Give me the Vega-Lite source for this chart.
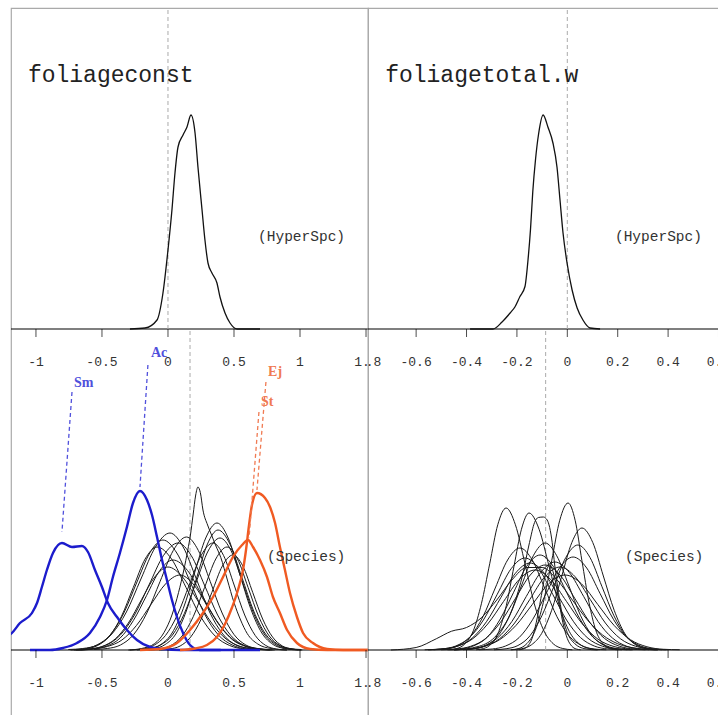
{
"$schema": "https://vega.github.io/schema/vega-lite/v6.json",
"padding": {"left": 9, "top": 6, "right": 0, "bottom": 0},
"spacing": 0,
"bounds": "flush",
"config": {"view": {"stroke": "#aaaaaa", "strokeWidth": 1.2}, "concat": {"spacing": 0}},
"datasets": {
"tl": [{"x":-0.288,"y":0},{"x":-0.174,"y":0.02},{"x":-0.083,"y":0.18},{"x":-0.038,"y":0.72},{"x":0.0,"y":1.58},{"x":0.030,"y":2.38},{"x":0.053,"y":3.12},{"x":0.076,"y":3.64},{"x":0.114,"y":3.88},{"x":0.144,"y":4.04},{"x":0.174,"y":4.28},{"x":0.205,"y":3.92},{"x":0.227,"y":3.24},{"x":0.258,"y":2.38},{"x":0.280,"y":1.78},{"x":0.303,"y":1.32},{"x":0.333,"y":1.12},{"x":0.371,"y":0.92},{"x":0.394,"y":0.64},{"x":0.432,"y":0.32},{"x":0.470,"y":0.12},{"x":0.523,"y":0.0},{"x":0.697,"y":0}],
"tr": [{"x":-0.386,"y":0},{"x":-0.295,"y":0},{"x":-0.259,"y":0.28},{"x":-0.227,"y":0.64},{"x":-0.208,"y":0.88},{"x":-0.188,"y":1.3},{"x":-0.168,"y":1.7},{"x":-0.156,"y":2.76},{"x":-0.146,"y":4.0},{"x":-0.137,"y":5.5},{"x":-0.126,"y":6.8},{"x":-0.114,"y":7.8},{"x":-0.096,"y":8.56},{"x":-0.077,"y":8.08},{"x":-0.057,"y":7.44},{"x":-0.041,"y":6.48},{"x":-0.029,"y":5.16},{"x":-0.017,"y":3.84},{"x":-0.001,"y":2.64},{"x":0.019,"y":1.56},{"x":0.039,"y":0.84},{"x":0.062,"y":0.36},{"x":0.090,"y":0.04},{"x":0.130,"y":0}],
"bl": [
{"c":"k1","x":-0.3,"y":0},{"c":"k1","x":-0.2,"y":0.03},{"c":"k1","x":-0.1,"y":0.13},{"c":"k1","x":-0.03,"y":0.35},{"c":"k1","x":0.03,"y":0.7},{"c":"k1","x":0.08,"y":1.15},{"c":"k1","x":0.12,"y":1.6},{"c":"k1","x":0.15,"y":2.0},{"c":"k1","x":0.17,"y":2.3},{"c":"k1","x":0.19,"y":2.7},{"c":"k1","x":0.21,"y":3.1},{"c":"k1","x":0.227,"y":3.26},{"c":"k1","x":0.245,"y":3.15},{"c":"k1","x":0.265,"y":2.8},{"c":"k1","x":0.30,"y":2.5},{"c":"k1","x":0.33,"y":2.3},{"c":"k1","x":0.36,"y":2.1},{"c":"k1","x":0.40,"y":1.85},{"c":"k1","x":0.45,"y":1.4},{"c":"k1","x":0.5,"y":0.95},{"c":"k1","x":0.55,"y":0.6},{"c":"k1","x":0.6,"y":0.33},{"c":"k1","x":0.68,"y":0.12},{"c":"k1","x":0.78,"y":0.03},{"c":"k1","x":0.9,"y":0},
{"c":"k2","x":-0.755,"y":0.01},{"c":"k2","x":-0.645,"y":0.03},{"c":"k2","x":-0.535,"y":0.10},{"c":"k2","x":-0.425,"y":0.32},{"c":"k2","x":-0.315,"y":0.76},{"c":"k2","x":-0.205,"y":1.42},{"c":"k2","x":-0.095,"y":2.06},{"c":"k2","x":0.015,"y":2.34},{"c":"k2","x":0.115,"y":2.06},{"c":"k2","x":0.215,"y":1.42},{"c":"k2","x":0.315,"y":0.76},{"c":"k2","x":0.415,"y":0.32},{"c":"k2","x":0.515,"y":0.10},{"c":"k2","x":0.615,"y":0.03},{"c":"k2","x":0.715,"y":0.01},
{"c":"k3","x":-0.738,"y":0},{"c":"k3","x":-0.638,"y":0.02},{"c":"k3","x":-0.538,"y":0.10},{"c":"k3","x":-0.438,"y":0.30},{"c":"k3","x":-0.338,"y":0.72},{"c":"k3","x":-0.238,"y":1.34},{"c":"k3","x":-0.138,"y":1.94},{"c":"k3","x":-0.038,"y":2.2},{"c":"k3","x":0.067,"y":1.94},{"c":"k3","x":0.172,"y":1.34},{"c":"k3","x":0.277,"y":0.72},{"c":"k3","x":0.382,"y":0.30},{"c":"k3","x":0.487,"y":0.10},{"c":"k3","x":0.592,"y":0.02},{"c":"k3","x":0.697,"y":0},
{"c":"k4","x":-0.694,"y":0},{"c":"k4","x":-0.584,"y":0.02},{"c":"k4","x":-0.474,"y":0.09},{"c":"k4","x":-0.364,"y":0.29},{"c":"k4","x":-0.254,"y":0.70},{"c":"k4","x":-0.144,"y":1.30},{"c":"k4","x":-0.034,"y":1.89},{"c":"k4","x":0.076,"y":2.14},{"c":"k4","x":0.176,"y":1.89},{"c":"k4","x":0.276,"y":1.30},{"c":"k4","x":0.376,"y":0.70},{"c":"k4","x":0.476,"y":0.29},{"c":"k4","x":0.576,"y":0.09},{"c":"k4","x":0.676,"y":0.02},{"c":"k4","x":0.776,"y":0},
{"c":"k5","x":-0.713,"y":0},{"c":"k5","x":-0.623,"y":0.02},{"c":"k5","x":-0.533,"y":0.09},{"c":"k5","x":-0.443,"y":0.28},{"c":"k5","x":-0.353,"y":0.67},{"c":"k5","x":-0.263,"y":1.25},{"c":"k5","x":-0.173,"y":1.82},{"c":"k5","x":-0.083,"y":2.06},{"c":"k5","x":0.027,"y":1.82},{"c":"k5","x":0.137,"y":1.25},{"c":"k5","x":0.247,"y":0.67},{"c":"k5","x":0.357,"y":0.28},{"c":"k5","x":0.467,"y":0.09},{"c":"k5","x":0.577,"y":0.02},{"c":"k5","x":0.687,"y":0},
{"c":"k6","x":-0.662,"y":0},{"c":"k6","x":-0.562,"y":0.02},{"c":"k6","x":-0.462,"y":0.08},{"c":"k6","x":-0.362,"y":0.24},{"c":"k6","x":-0.262,"y":0.59},{"c":"k6","x":-0.162,"y":1.09},{"c":"k6","x":-0.062,"y":1.59},{"c":"k6","x":0.038,"y":1.8},{"c":"k6","x":0.148,"y":1.59},{"c":"k6","x":0.258,"y":1.09},{"c":"k6","x":0.368,"y":0.59},{"c":"k6","x":0.478,"y":0.24},{"c":"k6","x":0.588,"y":0.08},{"c":"k6","x":0.698,"y":0.02},{"c":"k6","x":0.808,"y":0},
{"c":"k7","x":-0.7,"y":0},{"c":"k7","x":-0.6,"y":0.02},{"c":"k7","x":-0.5,"y":0.07},{"c":"k7","x":-0.4,"y":0.22},{"c":"k7","x":-0.3,"y":0.54},{"c":"k7","x":-0.2,"y":1.01},{"c":"k7","x":-0.1,"y":1.46},{"c":"k7","x":0,"y":1.66},{"c":"k7","x":0.11,"y":1.46},{"c":"k7","x":0.22,"y":1.01},{"c":"k7","x":0.33,"y":0.54},{"c":"k7","x":0.44,"y":0.22},{"c":"k7","x":0.55,"y":0.07},{"c":"k7","x":0.66,"y":0.02},{"c":"k7","x":0.77,"y":0},
{"c":"k8","x":-0.679,"y":0},{"c":"k8","x":-0.569,"y":0.02},{"c":"k8","x":-0.459,"y":0.07},{"c":"k8","x":-0.349,"y":0.20},{"c":"k8","x":-0.239,"y":0.49},{"c":"k8","x":-0.129,"y":0.91},{"c":"k8","x":-0.019,"y":1.32},{"c":"k8","x":0.091,"y":1.5},{"c":"k8","x":0.191,"y":1.32},{"c":"k8","x":0.291,"y":0.91},{"c":"k8","x":0.391,"y":0.49},{"c":"k8","x":0.491,"y":0.20},{"c":"k8","x":0.591,"y":0.07},{"c":"k8","x":0.691,"y":0.02},{"c":"k8","x":0.791,"y":0},
{"c":"k9","x":-0.56,"y":0.01},{"c":"k9","x":-0.46,"y":0.03},{"c":"k9","x":-0.36,"y":0.10},{"c":"k9","x":-0.26,"y":0.31},{"c":"k9","x":-0.16,"y":0.74},{"c":"k9","x":-0.06,"y":1.37},{"c":"k9","x":0.04,"y":1.99},{"c":"k9","x":0.14,"y":2.26},{"c":"k9","x":0.23,"y":1.99},{"c":"k9","x":0.32,"y":1.37},{"c":"k9","x":0.41,"y":0.74},{"c":"k9","x":0.50,"y":0.31},{"c":"k9","x":0.59,"y":0.10},{"c":"k9","x":0.68,"y":0.03},{"c":"k9","x":0.77,"y":0.01},
{"c":"k10","x":-0.224,"y":0.01},{"c":"k10","x":-0.139,"y":0.03},{"c":"k10","x":-0.054,"y":0.11},{"c":"k10","x":0.031,"y":0.34},{"c":"k10","x":0.116,"y":0.83},{"c":"k10","x":0.201,"y":1.54},{"c":"k10","x":0.286,"y":2.24},{"c":"k10","x":0.371,"y":2.54},{"c":"k10","x":0.456,"y":2.24},{"c":"k10","x":0.541,"y":1.54},{"c":"k10","x":0.626,"y":0.83},{"c":"k10","x":0.711,"y":0.34},{"c":"k10","x":0.796,"y":0.11},{"c":"k10","x":0.881,"y":0.03},{"c":"k10","x":0.966,"y":0.01},
{"c":"k11","x":-0.181,"y":0.01},{"c":"k11","x":-0.101,"y":0.03},{"c":"k11","x":-0.021,"y":0.11},{"c":"k11","x":0.059,"y":0.32},{"c":"k11","x":0.139,"y":0.78},{"c":"k11","x":0.219,"y":1.46},{"c":"k11","x":0.299,"y":2.12},{"c":"k11","x":0.379,"y":2.4},{"c":"k11","x":0.469,"y":2.12},{"c":"k11","x":0.559,"y":1.46},{"c":"k11","x":0.649,"y":0.78},{"c":"k11","x":0.739,"y":0.32},{"c":"k11","x":0.829,"y":0.11},{"c":"k11","x":0.919,"y":0.03},{"c":"k11","x":1.009,"y":0.01},
{"c":"k12","x":-0.236,"y":0},{"c":"k12","x":-0.146,"y":0.02},{"c":"k12","x":-0.056,"y":0.10},{"c":"k12","x":0.034,"y":0.30},{"c":"k12","x":0.124,"y":0.73},{"c":"k12","x":0.214,"y":1.36},{"c":"k12","x":0.304,"y":1.98},{"c":"k12","x":0.394,"y":2.24},{"c":"k12","x":0.479,"y":1.98},{"c":"k12","x":0.564,"y":1.36},{"c":"k12","x":0.649,"y":0.73},{"c":"k12","x":0.734,"y":0.30},{"c":"k12","x":0.819,"y":0.10},{"c":"k12","x":0.904,"y":0.02},{"c":"k12","x":0.989,"y":0},
{"c":"k13","x":-0.289,"y":0},{"c":"k13","x":-0.199,"y":0.02},{"c":"k13","x":-0.109,"y":0.09},{"c":"k13","x":-0.019,"y":0.29},{"c":"k13","x":0.071,"y":0.70},{"c":"k13","x":0.161,"y":1.30},{"c":"k13","x":0.251,"y":1.89},{"c":"k13","x":0.341,"y":2.14},{"c":"k13","x":0.421,"y":1.89},{"c":"k13","x":0.501,"y":1.30},{"c":"k13","x":0.581,"y":0.70},{"c":"k13","x":0.661,"y":0.29},{"c":"k13","x":0.741,"y":0.09},{"c":"k13","x":0.821,"y":0.02},{"c":"k13","x":0.901,"y":0},
{"c":"k14","x":-0.148,"y":0},{"c":"k14","x":-0.063,"y":0.02},{"c":"k14","x":0.022,"y":0.09},{"c":"k14","x":0.107,"y":0.28},{"c":"k14","x":0.192,"y":0.67},{"c":"k14","x":0.277,"y":1.25},{"c":"k14","x":0.362,"y":1.82},{"c":"k14","x":0.447,"y":2.06},{"c":"k14","x":0.527,"y":1.82},{"c":"k14","x":0.607,"y":1.25},{"c":"k14","x":0.687,"y":0.67},{"c":"k14","x":0.767,"y":0.28},{"c":"k14","x":0.847,"y":0.09},{"c":"k14","x":0.927,"y":0.02},{"c":"k14","x":1.007,"y":0},
{"c":"k15","x":-0.068,"y":0},{"c":"k15","x":0.012,"y":0.02},{"c":"k15","x":0.092,"y":0.08},{"c":"k15","x":0.172,"y":0.26},{"c":"k15","x":0.252,"y":0.62},{"c":"k15","x":0.332,"y":1.15},{"c":"k15","x":0.412,"y":1.68},{"c":"k15","x":0.492,"y":1.9},{"c":"k15","x":0.567,"y":1.68},{"c":"k15","x":0.642,"y":1.15},{"c":"k15","x":0.717,"y":0.62},{"c":"k15","x":0.792,"y":0.26},{"c":"k15","x":0.867,"y":0.08},{"c":"k15","x":0.942,"y":0.02},{"c":"k15","x":1.017,"y":0}
],
"blc": [
{"c":"Sm","g":"b","x":-1.26,"y":0.22},{"c":"Sm","g":"b","x":-1.182,"y":0.34},{"c":"Sm","g":"b","x":-1.121,"y":0.54},{"c":"Sm","g":"b","x":-1.03,"y":0.74},{"c":"Sm","g":"b","x":-0.992,"y":0.94},{"c":"Sm","g":"b","x":-0.955,"y":1.26},{"c":"Sm","g":"b","x":-0.917,"y":1.6},{"c":"Sm","g":"b","x":-0.871,"y":1.94},{"c":"Sm","g":"b","x":-0.803,"y":2.14},{"c":"Sm","g":"b","x":-0.727,"y":2.06},{"c":"Sm","g":"b","x":-0.652,"y":2.08},{"c":"Sm","g":"b","x":-0.606,"y":1.96},{"c":"Sm","g":"b","x":-0.553,"y":1.6},{"c":"Sm","g":"b","x":-0.5,"y":1.26},{"c":"Sm","g":"b","x":-0.455,"y":0.94},{"c":"Sm","g":"b","x":-0.386,"y":0.66},{"c":"Sm","g":"b","x":-0.311,"y":0.4},{"c":"Sm","g":"b","x":-0.235,"y":0.2},{"c":"Sm","g":"b","x":-0.136,"y":0.06},{"c":"Sm","g":"b","x":-0.038,"y":0.02},{"c":"Sm","g":"b","x":0.091,"y":0},{"c":"Sm","g":"b","x":0.4,"y":0},
{"c":"Ac","g":"b","x":-1.045,"y":0},{"c":"Ac","g":"b","x":-0.894,"y":0},{"c":"Ac","g":"b","x":-0.795,"y":0.04},{"c":"Ac","g":"b","x":-0.689,"y":0.14},{"c":"Ac","g":"b","x":-0.591,"y":0.34},{"c":"Ac","g":"b","x":-0.515,"y":0.66},{"c":"Ac","g":"b","x":-0.462,"y":1.0},{"c":"Ac","g":"b","x":-0.417,"y":1.46},{"c":"Ac","g":"b","x":-0.364,"y":1.94},{"c":"Ac","g":"b","x":-0.311,"y":2.46},{"c":"Ac","g":"b","x":-0.265,"y":2.94},{"c":"Ac","g":"b","x":-0.212,"y":3.18},{"c":"Ac","g":"b","x":-0.159,"y":3.0},{"c":"Ac","g":"b","x":-0.121,"y":2.7},{"c":"Ac","g":"b","x":-0.083,"y":2.26},{"c":"Ac","g":"b","x":-0.045,"y":1.8},{"c":"Ac","g":"b","x":-0.008,"y":1.4},{"c":"Ac","g":"b","x":0.030,"y":1.0},{"c":"Ac","g":"b","x":0.068,"y":0.66},{"c":"Ac","g":"b","x":0.114,"y":0.34},{"c":"Ac","g":"b","x":0.167,"y":0.1},{"c":"Ac","g":"b","x":0.242,"y":0},{"c":"Ac","g":"b","x":0.697,"y":0},
{"c":"Ej","g":"o","x":0.091,"y":0},{"c":"Ej","g":"o","x":0.205,"y":0.03},{"c":"Ej","g":"o","x":0.295,"y":0.1},{"c":"Ej","g":"o","x":0.371,"y":0.26},{"c":"Ej","g":"o","x":0.432,"y":0.52},{"c":"Ej","g":"o","x":0.485,"y":0.85},{"c":"Ej","g":"o","x":0.530,"y":1.2},{"c":"Ej","g":"o","x":0.568,"y":1.6},{"c":"Ej","g":"o","x":0.591,"y":2.0},{"c":"Ej","g":"o","x":0.614,"y":2.5},{"c":"Ej","g":"o","x":0.636,"y":2.9},{"c":"Ej","g":"o","x":0.674,"y":3.14},{"c":"Ej","g":"o","x":0.735,"y":3.04},{"c":"Ej","g":"o","x":0.773,"y":2.86},{"c":"Ej","g":"o","x":0.811,"y":2.54},{"c":"Ej","g":"o","x":0.848,"y":2.06},{"c":"Ej","g":"o","x":0.886,"y":1.6},{"c":"Ej","g":"o","x":0.924,"y":1.14},{"c":"Ej","g":"o","x":0.977,"y":0.66},{"c":"Ej","g":"o","x":1.023,"y":0.34},{"c":"Ej","g":"o","x":1.098,"y":0.14},{"c":"Ej","g":"o","x":1.205,"y":0.02},{"c":"Ej","g":"o","x":1.326,"y":0},{"c":"Ej","g":"o","x":1.62,"y":0},
{"c":"St","g":"o","x":-0.212,"y":0},{"c":"St","g":"o","x":-0.061,"y":0.02},{"c":"St","g":"o","x":0.068,"y":0.14},{"c":"St","g":"o","x":0.167,"y":0.40},{"c":"St","g":"o","x":0.265,"y":0.74},{"c":"St","g":"o","x":0.341,"y":1.06},{"c":"St","g":"o","x":0.417,"y":1.46},{"c":"St","g":"o","x":0.492,"y":1.86},{"c":"St","g":"o","x":0.561,"y":2.1},{"c":"St","g":"o","x":0.606,"y":2.2},{"c":"St","g":"o","x":0.644,"y":2.06},{"c":"St","g":"o","x":0.697,"y":1.80},{"c":"St","g":"o","x":0.750,"y":1.46},{"c":"St","g":"o","x":0.795,"y":1.06},{"c":"St","g":"o","x":0.848,"y":0.74},{"c":"St","g":"o","x":0.902,"y":0.40},{"c":"St","g":"o","x":0.977,"y":0.14},{"c":"St","g":"o","x":1.076,"y":0.02},{"c":"St","g":"o","x":1.205,"y":0},{"c":"St","g":"o","x":1.62,"y":0}
],
"segL": [{"g":"bl","x":-0.727,"y":5.16,"x2":-0.803,"y2":2.36},{"g":"bl","x":-0.152,"y":5.7,"x2":-0.212,"y2":3.26},{"g":"ol","x":0.742,"y":5.36,"x2":0.674,"y2":3.2},{"g":"ol","x":0.689,"y":4.76,"x2":0.614,"y2":2.24}],
"labL": [{"g":"bl","t":"Sm","x":-0.712,"y":5.34},{"g":"bl","t":"Ac","x":-0.129,"y":5.94},{"g":"ol","t":"Ej","x":0.758,"y":5.56},{"g":"ol","t":"St","x":0.705,"y":4.96}],
"br": [
{"c":"r1","x":-0.471,"y":0.01},{"c":"r1","x":-0.438,"y":0.06},{"c":"r1","x":-0.406,"y":0.25},{"c":"r1","x":-0.373,"y":0.77},{"c":"r1","x":-0.341,"y":1.85},{"c":"r1","x":-0.308,"y":3.45},{"c":"r1","x":-0.276,"y":5.01},{"c":"r1","x":-0.243,"y":5.68},{"c":"r1","x":-0.206,"y":5.01},{"c":"r1","x":-0.168,"y":3.45},{"c":"r1","x":-0.131,"y":1.85},{"c":"r1","x":-0.093,"y":0.77},{"c":"r1","x":-0.056,"y":0.25},{"c":"r1","x":-0.018,"y":0.06},{"c":"r1","x":0.020,"y":0.01},
{"c":"r2","x":-0.362,"y":0.01},{"c":"r2","x":-0.332,"y":0.06},{"c":"r2","x":-0.302,"y":0.24},{"c":"r2","x":-0.272,"y":0.74},{"c":"r2","x":-0.242,"y":1.78},{"c":"r2","x":-0.212,"y":3.33},{"c":"r2","x":-0.182,"y":4.83},{"c":"r2","x":-0.152,"y":5.48},{"c":"r2","x":-0.112,"y":4.83},{"c":"r2","x":-0.072,"y":3.33},{"c":"r2","x":-0.032,"y":1.78},{"c":"r2","x":0.008,"y":0.74},{"c":"r2","x":0.048,"y":0.24},{"c":"r2","x":0.088,"y":0.06},{"c":"r2","x":0.128,"y":0.01},
{"c":"r3","x":-0.45,"y":0},{"c":"r3","x":-0.35,"y":0.15},{"c":"r3","x":-0.28,"y":0.6},{"c":"r3","x":-0.22,"y":1.6},{"c":"r3","x":-0.18,"y":2.9},{"c":"r3","x":-0.15,"y":4.3},{"c":"r3","x":-0.13,"y":5.1},{"c":"r3","x":-0.115,"y":5.3},{"c":"r3","x":-0.095,"y":5.32},{"c":"r3","x":-0.08,"y":5.2},{"c":"r3","x":-0.07,"y":4.9},{"c":"r3","x":-0.06,"y":4.3},{"c":"r3","x":-0.05,"y":3.4},{"c":"r3","x":-0.035,"y":2.3},{"c":"r3","x":-0.02,"y":1.4},{"c":"r3","x":0.0,"y":0.7},{"c":"r3","x":0.03,"y":0.25},{"c":"r3","x":0.07,"y":0.05},{"c":"r3","x":0.12,"y":0},
{"c":"r4","x":-0.225,"y":0.01},{"c":"r4","x":-0.192,"y":0.06},{"c":"r4","x":-0.160,"y":0.26},{"c":"r4","x":-0.127,"y":0.79},{"c":"r4","x":-0.095,"y":1.91},{"c":"r4","x":-0.062,"y":3.57},{"c":"r4","x":-0.030,"y":5.19},{"c":"r4","x":0.003,"y":5.88},{"c":"r4","x":0.031,"y":5.19},{"c":"r4","x":0.058,"y":3.57},{"c":"r4","x":0.086,"y":1.91},{"c":"r4","x":0.113,"y":0.79},{"c":"r4","x":0.141,"y":0.26},{"c":"r4","x":0.168,"y":0.06},{"c":"r4","x":0.196,"y":0.01},
{"c":"r5","x":-0.222,"y":0.01},{"c":"r5","x":-0.182,"y":0.05},{"c":"r5","x":-0.142,"y":0.21},{"c":"r5","x":-0.102,"y":0.66},{"c":"r5","x":-0.062,"y":1.59},{"c":"r5","x":-0.022,"y":2.96},{"c":"r5","x":0.018,"y":4.30},{"c":"r5","x":0.058,"y":4.88},{"c":"r5","x":0.101,"y":4.30},{"c":"r5","x":0.143,"y":2.96},{"c":"r5","x":0.186,"y":1.59},{"c":"r5","x":0.228,"y":0.66},{"c":"r5","x":0.271,"y":0.21},{"c":"r5","x":0.313,"y":0.05},{"c":"r5","x":0.356,"y":0.01},
{"c":"r6","x":-0.291,"y":0.01},{"c":"r6","x":-0.243,"y":0.05},{"c":"r6","x":-0.196,"y":0.18},{"c":"r6","x":-0.148,"y":0.57},{"c":"r6","x":-0.101,"y":1.37},{"c":"r6","x":-0.053,"y":2.55},{"c":"r6","x":-0.006,"y":3.70},{"c":"r6","x":0.042,"y":4.2},{"c":"r6","x":0.090,"y":3.70},{"c":"r6","x":0.137,"y":2.55},{"c":"r6","x":0.185,"y":1.37},{"c":"r6","x":0.232,"y":0.57},{"c":"r6","x":0.280,"y":0.18},{"c":"r6","x":0.327,"y":0.05},{"c":"r6","x":0.375,"y":0.01},
{"c":"r7","x":-0.352,"y":0.01},{"c":"r7","x":-0.298,"y":0.04},{"c":"r7","x":-0.245,"y":0.16},{"c":"r7","x":-0.191,"y":0.50},{"c":"r7","x":-0.138,"y":1.21},{"c":"r7","x":-0.084,"y":2.26},{"c":"r7","x":-0.031,"y":3.28},{"c":"r7","x":0.023,"y":3.72},{"c":"r7","x":0.077,"y":3.28},{"c":"r7","x":0.130,"y":2.26},{"c":"r7","x":0.184,"y":1.21},{"c":"r7","x":0.237,"y":0.50},{"c":"r7","x":0.291,"y":0.16},{"c":"r7","x":0.344,"y":0.04},{"c":"r7","x":0.398,"y":0.01},
{"c":"r8","x":-0.531,"y":0.01},{"c":"r8","x":-0.482,"y":0.04},{"c":"r8","x":-0.433,"y":0.18},{"c":"r8","x":-0.384,"y":0.55},{"c":"r8","x":-0.335,"y":1.33},{"c":"r8","x":-0.286,"y":2.48},{"c":"r8","x":-0.237,"y":3.60},{"c":"r8","x":-0.188,"y":4.08},{"c":"r8","x":-0.139,"y":3.60},{"c":"r8","x":-0.090,"y":2.48},{"c":"r8","x":-0.041,"y":1.33},{"c":"r8","x":0.008,"y":0.55},{"c":"r8","x":0.057,"y":0.18},{"c":"r8","x":0.106,"y":0.04},{"c":"r8","x":0.155,"y":0.01},
{"c":"r9","x":-0.414,"y":0.01},{"c":"r9","x":-0.367,"y":0.05},{"c":"r9","x":-0.321,"y":0.19},{"c":"r9","x":-0.274,"y":0.58},{"c":"r9","x":-0.228,"y":1.39},{"c":"r9","x":-0.181,"y":2.60},{"c":"r9","x":-0.135,"y":3.77},{"c":"r9","x":-0.088,"y":4.28},{"c":"r9","x":-0.042,"y":3.77},{"c":"r9","x":0.005,"y":2.60},{"c":"r9","x":0.052,"y":1.39},{"c":"r9","x":0.098,"y":0.58},{"c":"r9","x":0.145,"y":0.19},{"c":"r9","x":0.191,"y":0.05},{"c":"r9","x":0.238,"y":0.01},
{"c":"r10","x":-0.551,"y":0.01},{"c":"r10","x":-0.493,"y":0.04},{"c":"r10","x":-0.436,"y":0.15},{"c":"r10","x":-0.378,"y":0.47},{"c":"r10","x":-0.321,"y":1.13},{"c":"r10","x":-0.263,"y":2.11},{"c":"r10","x":-0.206,"y":3.07},{"c":"r10","x":-0.148,"y":3.48},{"c":"r10","x":-0.091,"y":3.07},{"c":"r10","x":-0.033,"y":2.11},{"c":"r10","x":0.025,"y":1.13},{"c":"r10","x":0.082,"y":0.47},{"c":"r10","x":0.140,"y":0.15},{"c":"r10","x":0.197,"y":0.04},{"c":"r10","x":0.255,"y":0.01},
{"c":"r11","x":-0.501,"y":0.01},{"c":"r11","x":-0.442,"y":0.04},{"c":"r11","x":-0.383,"y":0.15},{"c":"r11","x":-0.324,"y":0.46},{"c":"r11","x":-0.265,"y":1.11},{"c":"r11","x":-0.206,"y":2.06},{"c":"r11","x":-0.147,"y":3.00},{"c":"r11","x":-0.088,"y":3.4},{"c":"r11","x":-0.029,"y":3.00},{"c":"r11","x":0.030,"y":2.06},{"c":"r11","x":0.089,"y":1.11},{"c":"r11","x":0.148,"y":0.46},{"c":"r11","x":0.207,"y":0.15},{"c":"r11","x":0.266,"y":0.04},{"c":"r11","x":0.325,"y":0.01},
{"c":"r12","x":-0.448,"y":0.01},{"c":"r12","x":-0.391,"y":0.04},{"c":"r12","x":-0.334,"y":0.15},{"c":"r12","x":-0.277,"y":0.48},{"c":"r12","x":-0.220,"y":1.14},{"c":"r12","x":-0.163,"y":2.14},{"c":"r12","x":-0.106,"y":3.10},{"c":"r12","x":-0.049,"y":3.52},{"c":"r12","x":0.008,"y":3.10},{"c":"r12","x":0.065,"y":2.14},{"c":"r12","x":0.122,"y":1.14},{"c":"r12","x":0.179,"y":0.48},{"c":"r12","x":0.236,"y":0.15},{"c":"r12","x":0.293,"y":0.04},{"c":"r12","x":0.350,"y":0.01},
{"c":"r13","x":-0.449,"y":0.01},{"c":"r13","x":-0.389,"y":0.04},{"c":"r13","x":-0.329,"y":0.15},{"c":"r13","x":-0.269,"y":0.45},{"c":"r13","x":-0.209,"y":1.08},{"c":"r13","x":-0.149,"y":2.02},{"c":"r13","x":-0.089,"y":2.93},{"c":"r13","x":-0.029,"y":3.32},{"c":"r13","x":0.031,"y":2.93},{"c":"r13","x":0.091,"y":2.02},{"c":"r13","x":0.151,"y":1.08},{"c":"r13","x":0.211,"y":0.45},{"c":"r13","x":0.271,"y":0.15},{"c":"r13","x":0.331,"y":0.04},{"c":"r13","x":0.391,"y":0.01},
{"c":"r14","x":-0.566,"y":0.01},{"c":"r14","x":-0.503,"y":0.04},{"c":"r14","x":-0.441,"y":0.14},{"c":"r14","x":-0.378,"y":0.43},{"c":"r14","x":-0.316,"y":1.04},{"c":"r14","x":-0.253,"y":1.94},{"c":"r14","x":-0.191,"y":2.82},{"c":"r14","x":-0.128,"y":3.2},{"c":"r14","x":-0.066,"y":2.82},{"c":"r14","x":-0.003,"y":1.94},{"c":"r14","x":0.060,"y":1.04},{"c":"r14","x":0.122,"y":0.43},{"c":"r14","x":0.185,"y":0.14},{"c":"r14","x":0.247,"y":0.04},{"c":"r14","x":0.310,"y":0.01},
{"c":"r15","x":-0.193,"y":0.01},{"c":"r15","x":-0.175,"y":0.04},{"c":"r15","x":-0.158,"y":0.15},{"c":"r15","x":-0.140,"y":0.46},{"c":"r15","x":-0.123,"y":1.11},{"c":"r15","x":-0.105,"y":2.06},{"c":"r15","x":-0.088,"y":3.00},{"c":"r15","x":-0.070,"y":3.4},{"c":"r15","x":-0.053,"y":3.00},{"c":"r15","x":-0.035,"y":2.06},{"c":"r15","x":-0.018,"y":1.11},{"c":"r15","x":0.000,"y":0.46},{"c":"r15","x":0.018,"y":0.15},{"c":"r15","x":0.035,"y":0.04},{"c":"r15","x":0.053,"y":0.01},
{"c":"r16","x":-0.464,"y":0.01},{"c":"r16","x":-0.399,"y":0.03},{"c":"r16","x":-0.334,"y":0.13},{"c":"r16","x":-0.269,"y":0.41},{"c":"r16","x":-0.204,"y":0.98},{"c":"r16","x":-0.139,"y":1.82},{"c":"r16","x":-0.074,"y":2.65},{"c":"r16","x":-0.009,"y":3.0},{"c":"r16","x":0.056,"y":2.65},{"c":"r16","x":0.121,"y":1.82},{"c":"r16","x":0.186,"y":0.98},{"c":"r16","x":0.251,"y":0.41},{"c":"r16","x":0.316,"y":0.13},{"c":"r16","x":0.381,"y":0.03},{"c":"r16","x":0.446,"y":0.01},
{"c":"r17","x":-0.553,"y":0.01},{"c":"r17","x":-0.498,"y":0.04},{"c":"r17","x":-0.443,"y":0.16},{"c":"r17","x":-0.388,"y":0.50},{"c":"r17","x":-0.333,"y":1.20},{"c":"r17","x":-0.278,"y":2.23},{"c":"r17","x":-0.223,"y":3.25},{"c":"r17","x":-0.168,"y":3.68},{"c":"r17","x":-0.113,"y":3.25},{"c":"r17","x":-0.058,"y":2.23},{"c":"r17","x":-0.003,"y":1.20},{"c":"r17","x":0.052,"y":0.50},{"c":"r17","x":0.107,"y":0.16},{"c":"r17","x":0.162,"y":0.04},{"c":"r17","x":0.217,"y":0.01},
{"c":"r18","x":-0.476,"y":0.01},{"c":"r18","x":-0.423,"y":0.04},{"c":"r18","x":-0.371,"y":0.17},{"c":"r18","x":-0.318,"y":0.51},{"c":"r18","x":-0.266,"y":1.24},{"c":"r18","x":-0.213,"y":2.31},{"c":"r18","x":-0.161,"y":3.35},{"c":"r18","x":-0.108,"y":3.8},{"c":"r18","x":-0.056,"y":3.35},{"c":"r18","x":-0.003,"y":2.31},{"c":"r18","x":0.050,"y":1.24},{"c":"r18","x":0.102,"y":0.51},{"c":"r18","x":0.155,"y":0.17},{"c":"r18","x":0.207,"y":0.04},{"c":"r18","x":0.260,"y":0.01},
{"c":"r19","x":-0.7,"y":0},{"c":"r19","x":-0.6,"y":0.1},{"c":"r19","x":-0.52,"y":0.45},{"c":"r19","x":-0.46,"y":0.75},{"c":"r19","x":-0.4,"y":0.9},{"c":"r19","x":-0.34,"y":1.3},{"c":"r19","x":-0.28,"y":2.0},{"c":"r19","x":-0.22,"y":2.8},{"c":"r19","x":-0.16,"y":3.3},{"c":"r19","x":-0.1,"y":3.3},{"c":"r19","x":-0.04,"y":2.8},{"c":"r19","x":0.02,"y":2.0},{"c":"r19","x":0.08,"y":1.2},{"c":"r19","x":0.14,"y":0.6},{"c":"r19","x":0.2,"y":0.25},{"c":"r19","x":0.28,"y":0.06},{"c":"r19","x":0.36,"y":0}
],
"ticksL": [{"t":-1,"s":"-1"},{"t":-0.5,"s":"-0.5"},{"t":0,"s":"0"},{"t":0.5,"s":"0.5"},{"t":1,"s":"1"},{"t":1.5,"s":"1.5"}],
"ticksR": [{"t":-0.8,"s":"-0.8"},{"t":-0.6,"s":"-0.6"},{"t":-0.4,"s":"-0.4"},{"t":-0.2,"s":"-0.2"},{"t":0,"s":"0"},{"t":0.2,"s":"0.2"},{"t":0.4,"s":"0.4"},{"t":0.6,"s":"0.6"}]
},
"hconcat": [
{
"width": 357, "height": 709,
"resolve": {"scale": {"y": "independent"}},
"layer": [
{
"layer": [
{"data": {"values": [{}]}, "mark": {"type": "rule", "color": "#000", "strokeWidth": 1.2}, "encoding": {"y": {"datum": 0, "type": "quantitative", "scale": {"domain": [-7.76, 6.42], "nice": false, "zero": false}, "axis": null}}},
{"data": {"values": [{}]}, "mark": {"type": "rule", "color": "#aaaaaa", "strokeDash": [4, 3], "strokeWidth": 1}, "encoding": {"x": {"datum": 0, "type": "quantitative", "scale": {"domain": [-1.189, 1.515], "nice": false, "zero": false}, "axis": null}, "y": {"datum": 0, "type": "quantitative", "scale": {"domain": [-7.76, 6.42], "nice": false, "zero": false}, "axis": null}, "y2": {"datum": 6.42}}},
{"data": {"name": "tl"}, "mark": {"type": "line", "color": "#111", "strokeWidth": 1.3, "interpolate": "monotone", "clip": true}, "encoding": {"x": {"field": "x", "type": "quantitative", "scale": {"domain": [-1.189, 1.515], "nice": false, "zero": false}, "axis": null}, "y": {"field": "y", "type": "quantitative", "scale": {"domain": [-7.76, 6.42], "nice": false, "zero": false}, "axis": null}}},
{"data": {"name": "ticksL"}, "mark": {"type": "tick", "orient": "vertical", "size": 8, "thickness": 1, "yOffset": 4, "color": "#000", "clip": true}, "encoding": {"x": {"field": "t", "type": "quantitative", "scale": {"domain": [-1.189, 1.515], "nice": false, "zero": false}, "axis": null}, "y": {"datum": 0, "type": "quantitative", "scale": {"domain": [-7.76, 6.42], "nice": false, "zero": false}, "axis": null}}},
{"data": {"name": "ticksL"}, "mark": {"type": "text", "dy": 33, "baseline": "middle", "align": "center", "font": "Liberation Mono", "fontSize": 13, "color": "#333", "clip": true}, "encoding": {"x": {"field": "t", "type": "quantitative", "scale": {"domain": [-1.189, 1.515], "nice": false, "zero": false}, "axis": null}, "y": {"datum": 0, "type": "quantitative", "scale": {"domain": [-7.76, 6.42], "nice": false, "zero": false}, "axis": null}, "text": {"field": "s"}}},
{"data": {"values": [{}]}, "mark": {"type": "text", "align": "left", "baseline": "middle", "font": "Liberation Mono", "fontSize": 23, "color": "#222", "clip": true}, "encoding": {"x": {"datum": -1.061, "type": "quantitative", "scale": {"domain": [-1.189, 1.515], "nice": false, "zero": false}, "axis": null}, "y": {"datum": 5.08, "type": "quantitative", "scale": {"domain": [-7.76, 6.42], "nice": false, "zero": false}, "axis": null}, "text": {"value": "foliageconst"}}},
{"data": {"values": [{}]}, "mark": {"type": "text", "align": "left", "baseline": "middle", "font": "Liberation Mono", "fontSize": 14.5, "color": "#333", "clip": true}, "encoding": {"x": {"datum": 0.682, "type": "quantitative", "scale": {"domain": [-1.189, 1.515], "nice": false, "zero": false}, "axis": null}, "y": {"datum": 1.84, "type": "quantitative", "scale": {"domain": [-7.76, 6.42], "nice": false, "zero": false}, "axis": null}, "text": {"value": "(HyperSpc)"}}}
]
},
{
"layer": [
{"data": {"values": [{}]}, "mark": {"type": "rule", "color": "#000", "strokeWidth": 1.2}, "encoding": {"y": {"datum": 0, "type": "quantitative", "scale": {"domain": [-1.34, 12.84], "nice": false, "zero": false}, "axis": null}}},
{"data": {"values": [{}]}, "mark": {"type": "rule", "color": "#aaaaaa", "strokeDash": [4, 3], "strokeWidth": 1}, "encoding": {"x": {"datum": 0.167, "type": "quantitative", "scale": {"domain": [-1.189, 1.515], "nice": false, "zero": false}, "axis": null}, "y": {"datum": 0, "type": "quantitative", "scale": {"domain": [-1.34, 12.84], "nice": false, "zero": false}, "axis": null}, "y2": {"datum": 6.4}}},
{"data": {"name": "bl"}, "mark": {"type": "line", "color": "#1a1a1a", "strokeWidth": 1, "interpolate": "monotone", "clip": true}, "encoding": {"detail": {"field": "c"}, "x": {"field": "x", "type": "quantitative", "scale": {"domain": [-1.189, 1.515], "nice": false, "zero": false}, "axis": null}, "y": {"field": "y", "type": "quantitative", "scale": {"domain": [-1.34, 12.84], "nice": false, "zero": false}, "axis": null}}},
{"data": {"name": "blc"}, "mark": {"type": "line", "strokeWidth": 2.4, "interpolate": "monotone", "clip": true}, "encoding": {"detail": {"field": "c"}, "color": {"field": "g", "type": "nominal", "scale": {"domain": ["b", "o", "bl", "ol"], "range": ["#1c1ccc", "#f05a22", "#5050dc", "#f07a52"]}, "legend": null}, "x": {"field": "x", "type": "quantitative", "scale": {"domain": [-1.189, 1.515], "nice": false, "zero": false}, "axis": null}, "y": {"field": "y", "type": "quantitative", "scale": {"domain": [-1.34, 12.84], "nice": false, "zero": false}, "axis": null}}},
{"data": {"name": "segL"}, "mark": {"type": "rule", "strokeDash": [4, 3], "strokeWidth": 1.3, "clip": true}, "encoding": {"color": {"field": "g", "type": "nominal", "scale": {"domain": ["b", "o", "bl", "ol"], "range": ["#1c1ccc", "#f05a22", "#5050dc", "#f07a52"]}, "legend": null}, "x": {"field": "x", "type": "quantitative", "scale": {"domain": [-1.189, 1.515], "nice": false, "zero": false}, "axis": null}, "y": {"field": "y", "type": "quantitative", "scale": {"domain": [-1.34, 12.84], "nice": false, "zero": false}, "axis": null}, "x2": {"field": "x2"}, "y2": {"field": "y2"}}},
{"data": {"name": "labL"}, "mark": {"type": "text", "align": "left", "baseline": "middle", "font": "Liberation Serif", "fontSize": 14, "fontWeight": "bold", "clip": true}, "encoding": {"color": {"field": "g", "type": "nominal", "scale": {"domain": ["b", "o", "bl", "ol"], "range": ["#1c1ccc", "#f05a22", "#5050dc", "#f07a52"]}, "legend": null}, "x": {"field": "x", "type": "quantitative", "scale": {"domain": [-1.189, 1.515], "nice": false, "zero": false}, "axis": null}, "y": {"field": "y", "type": "quantitative", "scale": {"domain": [-1.34, 12.84], "nice": false, "zero": false}, "axis": null}, "text": {"field": "t"}}},
{"data": {"name": "ticksL"}, "mark": {"type": "tick", "orient": "vertical", "size": 8, "thickness": 1, "yOffset": 4, "color": "#000", "clip": true}, "encoding": {"x": {"field": "t", "type": "quantitative", "scale": {"domain": [-1.189, 1.515], "nice": false, "zero": false}, "axis": null}, "y": {"datum": 0, "type": "quantitative", "scale": {"domain": [-1.34, 12.84], "nice": false, "zero": false}, "axis": null}}},
{"data": {"name": "ticksL"}, "mark": {"type": "text", "dy": 33, "baseline": "middle", "align": "center", "font": "Liberation Mono", "fontSize": 13, "color": "#333", "clip": true}, "encoding": {"x": {"field": "t", "type": "quantitative", "scale": {"domain": [-1.189, 1.515], "nice": false, "zero": false}, "axis": null}, "y": {"datum": 0, "type": "quantitative", "scale": {"domain": [-1.34, 12.84], "nice": false, "zero": false}, "axis": null}, "text": {"field": "s"}}},
{"data": {"values": [{}]}, "mark": {"type": "text", "align": "left", "baseline": "middle", "font": "Liberation Mono", "fontSize": 14.5, "color": "#333", "clip": true}, "encoding": {"x": {"datum": 0.75, "type": "quantitative", "scale": {"domain": [-1.189, 1.515], "nice": false, "zero": false}, "axis": null}, "y": {"datum": 1.86, "type": "quantitative", "scale": {"domain": [-1.34, 12.84], "nice": false, "zero": false}, "axis": null}, "text": {"value": "(Species)"}}}
]
}
]
},
{
"width": 351, "height": 709,
"resolve": {"scale": {"y": "independent"}},
"layer": [
{
"layer": [
{"data": {"values": [{}]}, "mark": {"type": "rule", "color": "#000", "strokeWidth": 1.2}, "encoding": {"y": {"datum": 0, "type": "quantitative", "scale": {"domain": [-15.52, 12.84], "nice": false, "zero": false}, "axis": null}}},
{"data": {"values": [{}]}, "mark": {"type": "rule", "color": "#aaaaaa", "strokeDash": [4, 3], "strokeWidth": 1}, "encoding": {"x": {"datum": 0, "type": "quantitative", "scale": {"domain": [-0.791, 0.602], "nice": false, "zero": false}, "axis": null}, "y": {"datum": 0, "type": "quantitative", "scale": {"domain": [-15.52, 12.84], "nice": false, "zero": false}, "axis": null}, "y2": {"datum": 12.84}}},
{"data": {"name": "tr"}, "mark": {"type": "line", "color": "#111", "strokeWidth": 1.3, "interpolate": "monotone", "clip": true}, "encoding": {"x": {"field": "x", "type": "quantitative", "scale": {"domain": [-0.791, 0.602], "nice": false, "zero": false}, "axis": null}, "y": {"field": "y", "type": "quantitative", "scale": {"domain": [-15.52, 12.84], "nice": false, "zero": false}, "axis": null}}},
{"data": {"name": "ticksR"}, "mark": {"type": "tick", "orient": "vertical", "size": 8, "thickness": 1, "yOffset": 4, "color": "#000", "clip": true}, "encoding": {"x": {"field": "t", "type": "quantitative", "scale": {"domain": [-0.791, 0.602], "nice": false, "zero": false}, "axis": null}, "y": {"datum": 0, "type": "quantitative", "scale": {"domain": [-15.52, 12.84], "nice": false, "zero": false}, "axis": null}}},
{"data": {"name": "ticksR"}, "mark": {"type": "text", "dy": 33, "baseline": "middle", "align": "center", "font": "Liberation Mono", "fontSize": 13, "color": "#333", "clip": true}, "encoding": {"x": {"field": "t", "type": "quantitative", "scale": {"domain": [-0.791, 0.602], "nice": false, "zero": false}, "axis": null}, "y": {"datum": 0, "type": "quantitative", "scale": {"domain": [-15.52, 12.84], "nice": false, "zero": false}, "axis": null}, "text": {"field": "s"}}},
{"data": {"values": [{}]}, "mark": {"type": "text", "align": "left", "baseline": "middle", "font": "Liberation Mono", "fontSize": 23, "color": "#222", "clip": true}, "encoding": {"x": {"datum": -0.723, "type": "quantitative", "scale": {"domain": [-0.791, 0.602], "nice": false, "zero": false}, "axis": null}, "y": {"datum": 10.16, "type": "quantitative", "scale": {"domain": [-15.52, 12.84], "nice": false, "zero": false}, "axis": null}, "text": {"value": "foliagetotal.w"}}},
{"data": {"values": [{}]}, "mark": {"type": "text", "align": "left", "baseline": "middle", "font": "Liberation Mono", "fontSize": 14.5, "color": "#333", "clip": true}, "encoding": {"x": {"datum": 0.189, "type": "quantitative", "scale": {"domain": [-0.791, 0.602], "nice": false, "zero": false}, "axis": null}, "y": {"datum": 3.68, "type": "quantitative", "scale": {"domain": [-15.52, 12.84], "nice": false, "zero": false}, "axis": null}, "text": {"value": "(HyperSpc)"}}}
]
},
{
"layer": [
{"data": {"values": [{}]}, "mark": {"type": "rule", "color": "#000", "strokeWidth": 1.2}, "encoding": {"y": {"datum": 0, "type": "quantitative", "scale": {"domain": [-2.68, 25.68], "nice": false, "zero": false}, "axis": null}}},
{"data": {"values": [{}]}, "mark": {"type": "rule", "color": "#aaaaaa", "strokeDash": [4, 3], "strokeWidth": 1}, "encoding": {"x": {"datum": -0.086, "type": "quantitative", "scale": {"domain": [-0.791, 0.602], "nice": false, "zero": false}, "axis": null}, "y": {"datum": 0, "type": "quantitative", "scale": {"domain": [-2.68, 25.68], "nice": false, "zero": false}, "axis": null}, "y2": {"datum": 12.8}}},
{"data": {"name": "br"}, "mark": {"type": "line", "color": "#1a1a1a", "strokeWidth": 1, "interpolate": "monotone", "clip": true}, "encoding": {"detail": {"field": "c"}, "x": {"field": "x", "type": "quantitative", "scale": {"domain": [-0.791, 0.602], "nice": false, "zero": false}, "axis": null}, "y": {"field": "y", "type": "quantitative", "scale": {"domain": [-2.68, 25.68], "nice": false, "zero": false}, "axis": null}}},
{"data": {"name": "ticksR"}, "mark": {"type": "tick", "orient": "vertical", "size": 8, "thickness": 1, "yOffset": 4, "color": "#000", "clip": true}, "encoding": {"x": {"field": "t", "type": "quantitative", "scale": {"domain": [-0.791, 0.602], "nice": false, "zero": false}, "axis": null}, "y": {"datum": 0, "type": "quantitative", "scale": {"domain": [-2.68, 25.68], "nice": false, "zero": false}, "axis": null}}},
{"data": {"name": "ticksR"}, "mark": {"type": "text", "dy": 33, "baseline": "middle", "align": "center", "font": "Liberation Mono", "fontSize": 13, "color": "#333", "clip": true}, "encoding": {"x": {"field": "t", "type": "quantitative", "scale": {"domain": [-0.791, 0.602], "nice": false, "zero": false}, "axis": null}, "y": {"datum": 0, "type": "quantitative", "scale": {"domain": [-2.68, 25.68], "nice": false, "zero": false}, "axis": null}, "text": {"field": "s"}}},
{"data": {"values": [{}]}, "mark": {"type": "text", "align": "left", "baseline": "middle", "font": "Liberation Mono", "fontSize": 14.5, "color": "#333", "clip": true}, "encoding": {"x": {"datum": 0.229, "type": "quantitative", "scale": {"domain": [-0.791, 0.602], "nice": false, "zero": false}, "axis": null}, "y": {"datum": 3.72, "type": "quantitative", "scale": {"domain": [-2.68, 25.68], "nice": false, "zero": false}, "axis": null}, "text": {"value": "(Species)"}}}
]
}
]
}
]
}
